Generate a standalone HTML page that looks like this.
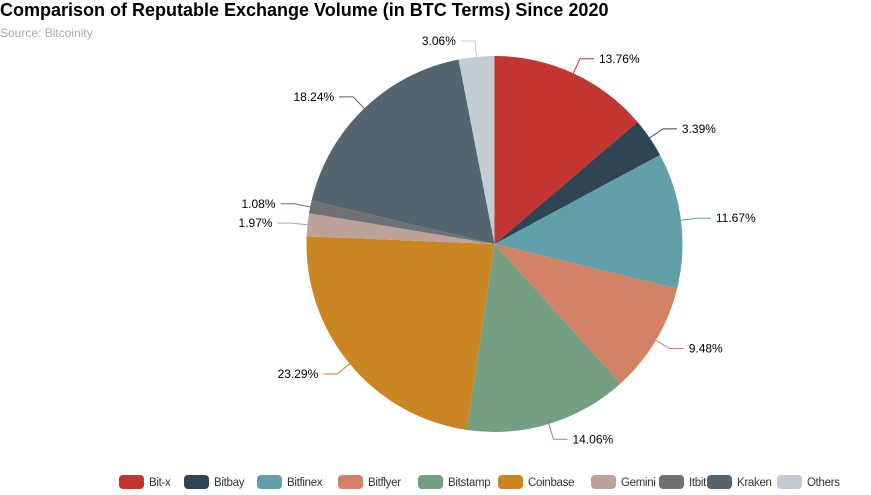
<!DOCTYPE html>
<html><head><meta charset="utf-8">
<style>
html,body{margin:0;padding:0;background:#fff;}
body{width:871px;height:490px;overflow:hidden;font-family:"Liberation Sans",Arial,sans-serif;}
</style></head>
<body>
<svg id="chart" width="871" height="490" xmlns="http://www.w3.org/2000/svg">
  <text x="0" y="16" font-size="18" font-weight="bold" fill="#000">Comparison of Reputable Exchange Volume (in BTC Terms) Since 2020</text>
  <text x="0" y="37" font-size="12" fill="#aaa">Source: Bitcoinity</text>
  <g id="slices"></g>
  <g id="labels"></g>
  <g id="legend"></g>
</svg>
<script>
const categories = ["Bit-x","Bitbay","Bitfinex","Bitflyer","Bitstamp","Coinbase","Gemini","Itbit","Kraken","Others"];
const values = [13.76,3.39,11.67,9.48,14.06,23.29,1.97,1.08,18.24,3.06];
const colors = ["#c23531","#2f4554","#61a0a8","#d48265","#749f83","#ca8622","#bda29a","#6e7074","#546570","#c4ccd3"];
const legendX = [119,184,257,338,418,498,591,659,707,777];

const NS = "http://www.w3.org/2000/svg";
const cx = 494.5, cy = 244, R = 188;
const total = values.reduce((a,b)=>a+b,0);
function pt(frac, r){ const a = frac*2*Math.PI; return [cx + r*Math.sin(a), cy - r*Math.cos(a)]; }
const gS = document.getElementById('slices');
const gL = document.getElementById('labels');
const gG = document.getElementById('legend');
let acc = 0;
values.forEach((v,i)=>{
  const f0 = acc/total, f1 = (acc+v)/total; acc += v;
  const [x0,y0] = pt(f0,R), [x1,y1] = pt(f1,R);
  const large = (f1-f0) > 0.5 ? 1 : 0;
  const p = document.createElementNS(NS,'path');
  p.setAttribute('d',`M${cx},${cy}L${x0},${y0}A${R},${R} 0 ${large} 1 ${x1},${y1}Z`);
  p.setAttribute('fill',colors[i]);
  
  
  gS.appendChild(p);
  const fm = (f0+f1)/2;
  const [ax,ay] = pt(fm,R), [bx,by] = pt(fm,R+16);
  const right = Math.sin(fm*2*Math.PI) >= 0;
  const ex = bx + (right?14:-14);
  const l = document.createElementNS(NS,'polyline');
  l.setAttribute('points',`${ax},${ay} ${bx},${by} ${ex},${by}`);
  l.setAttribute('fill','none');
  l.setAttribute('stroke',colors[i]);
  l.setAttribute('stroke-width','1');
  
  
  gL.appendChild(l);
  const t = document.createElementNS(NS,'text');
  t.setAttribute('x', ex + (right?5:-5));
  t.setAttribute('y', by + 4);
  t.setAttribute('font-size','12');
  t.setAttribute('fill','#000');
  t.setAttribute('text-anchor', right?'start':'end');
  t.textContent = v.toFixed(2) + '%';
  
  
  gL.appendChild(t);
  const g = document.createElementNS(NS,'g');
  
  
  const r = document.createElementNS(NS,'rect');
  r.setAttribute('x',legendX[i]); r.setAttribute('y',475);
  r.setAttribute('width',25); r.setAttribute('height',14);
  r.setAttribute('rx',4); r.setAttribute('fill',colors[i]);
  g.appendChild(r);
  const lt = document.createElementNS(NS,'text');
  lt.setAttribute('x',legendX[i]+30); lt.setAttribute('y',486);
  lt.setAttribute('font-size','11.5'); lt.setAttribute('fill','#333');
  lt.setAttribute('letter-spacing','-0.3');
  lt.textContent = categories[i];
  g.appendChild(lt);
  gG.appendChild(g);
});
</script>
</body></html>
